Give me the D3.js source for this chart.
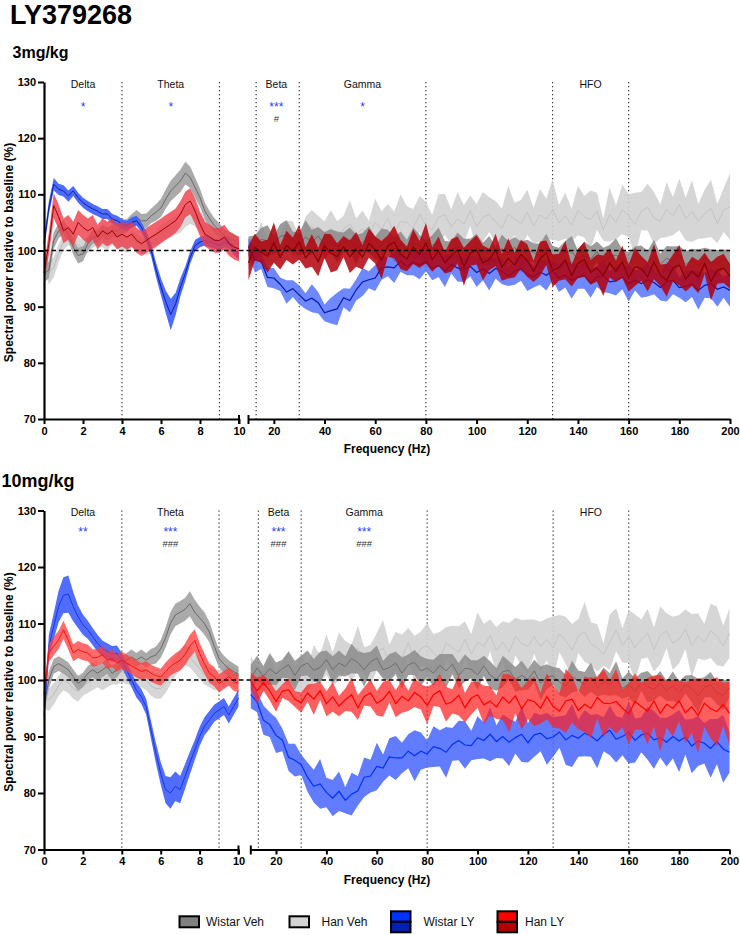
<!DOCTYPE html>
<html><head><meta charset="utf-8">
<script src="https://cdn.jsdelivr.net/npm/d3@7"></script>
<style>
html,body{margin:0;padding:0;background:#fff;}
svg{display:block;}
</style></head><body>
<svg id="chart" width="740" height="935"></svg>
<script>
// ---------------- DATA ----------------
const freqLow = [
 0,0.25,0.5,0.75,1,1.25,1.5,1.75,2,2.25,
 2.5,2.75,3,3.25,3.5,3.75,4,4.25,4.5,4.75,
 5,5.25,5.5,5.75,6,6.25,6.5,6.75,7,7.25,
 7.5,7.75,8,8.25,8.5,8.75,9,9.25,9.5,9.75,
 10];
const freqHigh = [
 10,12.5,15,17.5,20,22.5,25,27.5,30,32.5,
 35,37.5,40,42.5,45,47.5,50,52.5,55,57.5,
 60,62.5,65,67.5,70,72.5,75,77.5,80,82.5,
 85,87.5,90,92.5,95,97.5,100,102.5,105,107.5,
 110,112.5,115,117.5,120,122.5,125,127.5,130,132.5,
 135,137.5,140,142.5,145,147.5,150,152.5,155,157.5,
 160,162.5,165,167.5,170,172.5,175,177.5,180,182.5,
 185,187.5,190,192.5,195,197.5,200];

const seriesNames = ["Wistar Veh","Han Veh","Wistar LY","Han LY"];
const bandEdges = [4, 9, 13, 30, 80, 130, 160];
const bandNames = ["Delta","Theta","Beta","Gamma","HFO"];
const bandCentres = [2, 6.5, 21, 55, 145];
const starsTop = ["*","*","***","*",""];
const hashTop = ["","","#","",""];
const starsBottom = ["**","***","***","***",""];
const hashBottom = ["","###","###","###",""];
const yTicks = [70,80,90,100,110,120,130];
const xTicksLow = [0,2,4,6,8,10];
const xTicksHigh = [20,40,60,80,100,120,140,160,180,200];

// ---- 3 mg/kg : mean and SEM, 0-10 Hz ----
const t3_wv_low = [
 95.9,96.5,101.8,103.5,104.1,102.9,100.6,99.1,99.4,101.2,
 102.4,102.4,103.5,102.9,103.5,103.5,104.1,104.4,105.3,105.9,
 105.3,105.3,106.2,106.8,107.6,109.2,110.6,111.5,112.4,113.8,
 113.0,111.2,109.4,107.0,105.6,104.4,103.5,102.6,102.2,101.8,
 101.0];
const t3_wv_lowSem = [
 1.5,1.5,1.5,1.3,1.2,1.2,1.3,1.4,1.3,1.2,
 1.2,1.1,1.1,1.2,1.1,1.1,1.2,1.2,1.2,1.3,
 1.2,1.3,1.3,1.5,1.6,1.7,1.8,1.9,2.0,2.0,
 1.9,1.8,1.6,1.5,1.4,1.3,1.3,1.2,1.2,1.2,
 1.2];
const t3_hv_low = [
 99,96,97,99.5,101.5,102.5,102,101,100.5,101,
 102,102.5,102,101.5,102.5,102,101.5,101,102,101.5,
 101,100.5,101,102,103,103.5,104,104.5,105,106,
 106.5,106,105,104,103,102.5,102,101.5,101.5,101,
 100.5];
const t3_hv_lowSem = [
 2,2,1.8,1.6,1.5,1.5,1.5,1.4,1.4,1.4,
 1.5,1.5,1.4,1.4,1.5,1.5,1.4,1.4,1.5,1.5,
 1.4,1.4,1.5,1.5,1.6,1.6,1.7,1.7,1.8,1.8,
 1.8,1.7,1.7,1.6,1.5,1.5,1.4,1.4,1.4,1.4,
 1.4];
const t3_wl_low = [
 101.2,107.6,111.8,110.9,110.6,109.7,110.6,109.4,108.5,107.9,
 107.4,107,106.5,106.5,105.6,105.3,104.7,104.4,105,105.3,
 104.1,102.4,100,96.5,93.5,90.8,88.6,90.5,93.5,95.9,
 98.8,100.9,101.5,101.8,101.5,101.2,100.9,101.5,101.2,100,
 99.4];
const t3_wl_lowSem = [
 1.2,1.2,1.1,1.0,1.0,1.0,0.9,0.9,0.9,0.9,
 0.9,0.9,0.9,0.9,0.9,0.9,0.9,0.9,0.9,0.9,
 0.9,1.0,1.1,1.3,1.5,2.0,2.8,2.0,1.6,1.3,
 1.1,1.0,0.9,0.9,0.9,0.9,0.9,0.9,0.9,0.9,
 0.9];
const t3_hl_low = [
 96,101.2,108,106,103.5,104.1,102.9,105,104.1,103.5,
 104.1,102.4,103.5,102.9,103.5,102.4,102.9,102.4,102.9,101.8,
 101.2,101.8,102.4,102.9,103.5,104.1,104.7,105.3,106.5,108.2,
 108.8,107,104.7,102.9,102.4,101.8,101.8,102.4,101.2,100.6,
 100.3];
const t3_hl_lowSem = [
 1.6,2.0,2.2,2.2,2.2,2.2,2.2,2.2,2.2,2.2,
 2.2,2.2,2.2,2.2,2.2,2.2,2.2,2.2,2.2,2.2,
 2.2,2.2,2.2,2.2,2.2,2.2,2.2,2.2,2.3,2.3,
 2.3,2.3,2.2,2.2,2.2,2.2,2.2,2.2,2.2,2.2,
 2.2];

// ---- 3 mg/kg : mean and SEM, 10-200 Hz ----
const t3_wv_high = [
 100.7,100.3,102.0,101.7,101.0,102.5,102.8,101.6,101.1,102.4,
 101.5,102.6,100.9,101.8,100.6,101.4,101.9,100.2,101.5,101.9,
 100.5,100.9,101.9,100.1,101.0,100.3,101.3,100.8,99.6,100.9,
 101.5,99.7,100.0,100.8,99.1,100.3,100.8,99.4,100.0,99.1,
 100.4,99.5,100.6,98.8,99.9,99.7,98.8,100.4,99.0,98.3,
 99.7,99.8,98.4,99.2,98.5,99.8,97.9,99.0,99.2,98.4,
 97.5,99.1,98.5,97.9,99.1,97.6,98.6,98.1,99.2,97.5,
 98.3,97.2,98.7,98.0,97.7,98.6,97.5];
const t3_wv_highSem = [
 1.8,2.4,2.0,2.8,1.6,2.2,2.6,1.8,2.0,3.0,
 2.2,1.6,2.4,2.0,2.8,1.8,2.2,2.6,1.6,2.4,
 2.0,3.0,1.8,2.2,2.4,1.6,2.8,2.0,2.2,1.8,
 2.6,2.0,1.6,2.4,3.0,1.8,2.2,2.0,2.6,1.6,
 2.4,2.2,1.8,2.8,2.0,1.6,2.4,2.6,1.8,2.2,
 2.0,2.8,1.6,2.4,2.2,1.8,2.6,2.0,3.0,1.8,
 2.2,1.6,2.4,2.0,2.8,1.8,2.2,2.6,1.6,2.4,
 2.0,3.0,1.8,2.2,2.4,1.6,2.6];
const t3_hv_high = [
 99.2,100.2,102.2,99.6,101.4,100.7,102.7,102.1,100.6,103.1,
 104.3,101.8,102.6,104.0,101.7,103.9,104.8,102.8,103.9,102.7,
 105.0,103.8,105.7,103.1,105.2,105.0,103.9,106.5,104.5,103.7,
 105.9,106.4,104.2,105.6,104.7,107.1,104.2,106.0,106.4,105.1,
 103.9,106.5,105.6,104.7,106.8,104.4,106.3,105.6,107.3,104.9,
 106.2,104.5,107.1,106.0,105.5,107.0,103.7,106.4,105.0,107.3,
 106.2,104.6,107.0,107.7,105.8,105.2,107.3,106.1,108.2,105.6,
 107.0,105.2,106.5,107.5,104.8,107.2,107.8];
const t3_hv_highSem = [
 2.6,1.9,2.9,2.4,3.4,2.2,2.6,3.1,1.9,2.9,
 2.9,4.4,2.6,3.2,3.5,2.3,4.1,2.9,3.2,2.6,
 4.2,3.2,2.6,3.8,4.8,2.9,3.5,3.2,4.2,2.6,
 4.1,3.7,3.1,4.8,3.4,2.7,4.1,4.4,3.1,3.7,
 3.6,5.0,2.9,4.3,4.0,3.2,4.7,3.6,5.4,3.2,
 4.1,3.0,4.4,3.7,5.2,3.3,2.0,4.8,3.0,4.4,
 3.8,5.7,3.4,4.2,4.6,3.0,4.9,3.4,4.6,3.8,
 5.5,3.1,4.3,5.1,3.5,3.9,5.9];
const t3_wl_high = [
 100.7,98.4,98.1,95.2,95.1,94.0,92.6,93.2,92.1,91.0,
 91.5,90.7,88.9,89.3,89.6,91.6,91.1,93.0,94.4,94.8,
 95.1,96.9,97.1,96.9,98.1,97.1,97.9,97.4,98.0,96.8,
 97.3,96.3,97.5,96.9,96.6,97.2,96.1,96.7,95.9,96.8,
 96.3,95.4,96.4,96.7,95.7,95.3,96.2,95.6,96.4,95.1,
 95.6,94.7,95.2,95.6,94.2,95.3,95.5,94.4,94.6,95.3,
 94.1,94.7,94.1,94.8,94.3,93.4,94.4,94.7,93.4,93.6,
 94.1,92.9,93.8,94.1,93.1,93.5,92.9];
const t3_wl_highSem = [
 1.5,2.3,1.4,1.7,1.8,1.2,2.1,1.5,1.7,1.4,
 2.5,1.9,1.5,2.3,2.9,1.7,2.1,1.9,2.5,1.5,
 2.3,2.1,1.7,2.7,1.9,1.5,2.3,2.5,1.7,2.1,
 2.0,2.8,1.6,2.4,2.2,1.8,2.6,2.0,3.0,1.8,
 2.3,1.7,2.5,2.1,2.9,1.9,2.3,2.7,1.7,2.5,
 2.2,3.3,2.0,2.4,2.6,1.8,2.9,2.0,2.6,2.2,
 3.2,1.8,2.5,3.0,2.1,2.3,3.5,2.5,1.8,2.8,
 2.4,3.4,2.2,2.6,3.1,1.9,2.9];
const t3_hl_high = [
 97.8,100.6,99.7,99.0,101.4,98.8,100.9,99.9,101.5,98.7,
 100.0,98.0,100.8,99.5,98.9,100.7,98.9,100.2,98.8,101.3,
 100.1,98.3,100.8,101.5,99.3,98.5,100.7,99.3,101.3,98.4,
 99.9,97.8,99.1,100.1,97.1,99.5,100.1,97.8,98.4,100.1,
 97.0,98.6,97.4,99.3,98.2,96.3,98.5,99.6,96.4,97.0,
 98.3,95.5,97.7,98.4,96.1,96.9,95.5,97.8,96.3,98.0,
 95.1,97.1,96.8,95.3,98.0,95.6,94.7,96.9,97.4,94.9,
 96.3,95.3,97.7,94.5,96.5,96.8,95.4];
const t3_hl_highSem = [
 3.1,2.4,1.9,2.9,3.6,2.2,2.6,2.4,3.1,1.9,
 2.9,2.6,2.2,3.4,2.4,1.9,2.9,3.1,2.2,2.6,
 2.4,3.4,1.9,2.9,2.6,2.2,3.1,2.4,3.6,2.2,
 2.6,1.9,2.9,2.4,3.4,2.2,2.6,3.1,1.9,2.9,
 2.4,3.6,2.2,2.6,2.9,1.9,3.1,2.2,2.9,2.4,
 3.4,1.9,2.6,3.1,2.2,2.4,3.6,2.6,1.9,2.9,
 2.4,3.4,2.2,2.6,3.1,1.9,2.9,2.4,3.6,2.2,
 2.6,2.9,1.9,3.4,2.4,2.6,2.2];

// ---- 10 mg/kg : mean and SEM, 0-10 Hz ----
const t10_wv_low = [
 95.5,100,102.4,102.9,102.4,101.8,100.6,99.4,100,101.2,
 101.8,101.2,101.8,102.4,101.2,101.8,102.9,103.5,104.1,103.5,
 104.1,103.5,104.1,104.4,105.5,107.5,110,111.5,112,112.5,
 113.5,112,111,110,108.5,106,103.8,102.8,102,101.5,
 101];
const t10_wv_lowSem = [
 1.5,1.5,1.3,1.3,1.3,1.3,1.3,1.3,1.3,1.3,
 1.3,1.3,1.3,1.3,1.3,1.3,1.3,1.3,1.3,1.3,
 1.3,1.3,1.4,1.5,1.6,1.8,2,2,2,2,
 2.2,2.2,2,2,1.8,1.7,1.6,1.5,1.5,1.4,
 1.4];
const t10_hv_low = [
 97,96.5,97.5,99,100,99.5,98.5,98,99,99.5,
 100,100.5,100,100.5,101,101,101.5,101,101,100.5,
 100.5,100,99,98.5,98.5,99.5,101,102.5,103.5,104.5,
 104,103,102,101,100.5,100,100,100.5,101,100.5,
 100];
const t10_hv_lowSem = [
 2,2,1.9,1.8,1.8,1.8,1.8,1.8,1.8,1.8,
 1.8,1.8,1.8,1.8,1.8,1.8,1.8,1.8,1.8,1.8,
 1.8,1.8,1.8,1.8,1.8,1.8,1.8,1.8,1.8,1.8,
 1.8,1.8,1.8,1.8,1.8,1.8,1.8,1.8,1.8,1.8,
 1.8];
const t10_wl_low = [
 93.5,106,109.5,113,115,115.2,113,111.2,109.8,108.9,
 107.7,106.5,105.6,105.1,104.6,104.7,103.5,101.8,100,98.2,
 97.1,95.3,91.2,87.1,83.5,80.6,80,81.2,80.6,82.9,
 85.3,87.6,90,91.8,92.9,94.1,94.7,95.3,93.8,95.3,
 96.8];
const t10_wl_lowSem = [
 1.5,2,2.3,2.8,3.2,3.3,2.6,2,1.8,1.6,
 1.5,1.5,1.4,1.4,1.4,1.4,1.3,1.3,1.3,1.3,
 1.3,1.4,1.6,1.8,2,2.4,2.8,2.6,2.4,2.2,
 2,1.8,1.7,1.6,1.6,1.5,1.5,1.5,1.5,1.5,
 1.5];
const t10_hl_low = [
 97.5,104.8,106,107.1,108.9,107,104.8,105.4,105,104.8,
 103.9,104,104.5,103.5,103.8,103,103.5,103,102.5,102,
 101.5,101.8,101.2,100.8,100.5,101.5,102.4,103,103.5,104.5,
 106,107,104.7,102.9,101.2,100.6,99.4,100,100.6,99.7,
 99.4];
const t10_hl_lowSem = [
 1.5,1.6,1.6,1.6,1.6,1.6,1.5,1.5,1.5,1.5,
 1.5,1.5,1.5,1.5,1.5,1.5,1.5,1.5,1.5,1.5,
 1.5,1.5,1.5,1.5,1.5,1.6,1.6,1.7,1.8,1.9,
 2,2,1.9,1.8,1.7,1.7,1.6,1.6,1.6,1.6,
 1.6];

// ---- 10 mg/kg : mean and SEM, 10-200 Hz ----
const t10_wv_high = [
 100.3,102.1,100.7,102.0,101.1,102.0,102.7,100.8,102.5,103.0,
 101.7,102.2,103.6,101.8,103.0,102.4,103.8,103.1,101.8,103.2,
 103.9,101.8,102.2,103.0,101.2,102.7,103.1,101.6,102.1,101.2,
 102.6,101.6,102.8,100.8,102.1,101.9,100.9,102.5,100.9,100.1,
 101.5,101.7,100.1,100.8,100.1,101.6,99.4,100.6,100.7,99.7,
 98.9,100.6,99.9,99.2,100.5,98.7,99.8,99.2,100.3,98.5,
 99.3,97.9,99.7,98.8,98.4,99.4,98.1,98.9,97.8,99.2,
 98.5,97.2,98.7,99.2,97.7,97.3,98.6];
const t10_wv_highSem = [
 2.4,2.2,1.8,2.8,2.0,1.6,2.4,2.6,1.8,2.2,
 2.0,2.8,1.6,2.4,2.2,1.8,2.6,2.0,3.0,1.8,
 2.2,1.6,2.4,2.0,2.8,1.8,2.2,2.6,1.6,2.4,
 2.0,3.0,1.8,2.2,2.4,1.6,2.6,1.8,2.4,2.0,
 2.8,1.6,2.2,2.6,1.8,2.0,3.0,2.2,1.6,2.4,
 2.0,2.8,1.8,2.2,2.6,1.6,2.4,2.0,3.0,1.8,
 2.2,2.4,1.6,2.8,2.0,2.2,1.8,2.6,2.0,1.6,
 2.4,3.0,1.8,2.2,2.0,2.6,1.6];
const t10_hv_high = [
 102.0,99.0,99.8,101.4,98.8,101.2,102.1,100.0,101.1,100.1,
 102.9,102.1,104.5,101.9,104.2,104.2,103.0,105.7,103.4,102.6,
 105.0,105.6,103.3,104.9,104.0,106.6,103.5,105.6,106.1,104.8,
 103.6,106.6,105.7,104.9,107.2,104.6,106.7,106.0,107.9,105.2,
 106.7,104.9,107.7,106.5,105.9,107.7,105.9,107.2,105.7,108.2,
 107.0,105.3,107.8,108.5,106.4,105.7,104.5,106.7,108.9,106.1,
 107.7,105.7,107.2,108.3,105.4,107.9,108.7,106.5,107.2,109.0,
 106.1,107.8,106.7,108.7,107.8,106.0,108.3];
const t10_hv_highSem = [
 2.3,3.2,1.8,2.8,2.5,2.1,3.0,2.3,3.5,2.1,
 3.3,2.4,3.6,3.0,4.2,2.7,3.3,3.9,2.4,3.6,
 3.3,5.0,3.0,3.6,4.0,2.6,4.3,3.0,4.0,3.3,
 4.9,2.8,3.9,4.6,3.2,3.5,5.3,3.9,2.8,4.2,
 3.7,5.2,3.3,4.1,4.8,3.0,4.4,3.7,5.6,3.3,
 4.2,4.6,3.0,5.3,3.8,4.2,2.0,4.9,3.8,3.0,
 4.7,5.9,3.5,4.3,3.9,5.1,3.1,4.7,4.3,3.5,
 5.6,4.0,3.2,4.8,5.2,3.6,4.4];
const t10_wl_high = [
 97.4,96.1,92.9,92.1,90.2,89.4,86.3,85.8,85.0,82.8,
 81.2,81.6,80.1,79.1,80.3,78.7,79.8,80.4,82.8,83.0,
 84.7,84.4,86.4,86.2,86.2,87.4,86.6,87.4,86.9,88.2,
 87.9,87.2,88.6,89.3,88.5,88.4,89.8,89.3,90.4,89.1,
 90.0,89.0,89.8,90.4,88.9,90.3,90.6,89.6,89.9,90.8,
 89.4,90.2,89.7,90.6,90.1,89.2,90.4,91.1,89.5,90.0,
 90.7,89.3,90.3,90.6,89.4,89.8,89.0,90.0,89.2,89.9,
 88.3,89.2,88.8,87.9,89.1,87.8,87.2];
const t10_wl_highSem = [
 2.4,1.8,2.6,2.2,3.1,2.0,2.4,2.9,1.8,2.6,
 2.9,4.4,2.6,3.2,3.5,2.3,3.8,2.6,3.5,2.9,
 4.2,2.4,3.3,3.9,2.7,3.0,4.5,3.3,2.4,3.6,
 3.2,4.5,2.9,3.5,4.2,2.6,3.8,3.2,4.8,2.9,
 3.9,4.2,2.8,4.9,3.5,3.9,3.2,4.6,3.5,2.8,
 4.4,5.6,3.3,4.1,3.7,4.8,3.0,4.4,4.1,3.3,
 5.5,3.9,3.1,4.7,5.1,3.5,4.3,3.9,5.5,3.1,
 4.8,4.4,3.6,5.2,4.0,6.0,3.6];
const t10_hl_high = [
 99.8,98.1,99.5,98.1,96.2,98.0,98.3,96.6,96.0,97.7,
 96.6,98.1,95.8,97.0,95.4,96.5,97.4,95.1,97.1,97.7,
 95.9,96.6,98.0,95.8,97.1,96.3,97.8,97.0,95.5,97.4,
 98.1,95.7,96.2,97.3,95.1,96.8,97.4,95.6,96.3,95.2,
 97.0,95.9,97.2,94.9,96.5,96.2,95.0,97.1,95.3,94.5,
 96.3,96.6,94.6,95.7,95.0,96.9,95.9,95.8,96.2,95.0,
 94.0,96.2,95.3,94.5,96.3,94.1,95.7,95.0,96.3,94.2,
 95.3,93.7,95.9,94.9,94.4,95.7,94.1];
const t10_hl_highSem = [
 1.5,2.3,1.4,1.7,1.8,1.2,2.0,1.4,1.8,1.5,
 2.8,1.6,2.2,2.6,1.8,2.0,3.0,2.2,1.6,2.4,
 2.2,3.1,2.0,2.4,2.9,1.8,2.6,2.2,3.3,2.0,
 2.9,3.1,2.1,3.6,2.6,2.9,2.3,3.4,2.6,2.1,
 4.1,5.1,3.1,3.7,3.4,4.4,2.7,4.1,3.7,3.1,
 5.7,4.1,3.3,4.9,5.3,3.7,6.0,4.1,5.7,3.3,
 5.4,5.0,4.1,5.9,4.5,6.8,4.1,5.0,3.6,5.4,
 4.7,6.6,4.2,5.2,6.1,3.8,5.6];

// ---------------- DRAWING ----------------
const FONT = '"Liberation Sans", Arial, Helvetica, sans-serif';
const svg = d3.select("#chart").style("font-family", FONT);

const styles = {
  top: {
    hv: {L:{fill:"#d2d2d2",op:0.9,line:"#bdbdbd",w:1}, R:{fill:"#d2d2d2",op:0.9,line:"#c4c4c4",w:1}},
    wv: {L:{fill:"#9b9b9b",op:0.85,line:"#686868",w:1}, R:{fill:"#8a8a8a",op:0.85,line:"#6a6a6a",w:1}},
    wl: {L:{fill:"#3b5bff",op:0.9,line:"#0d1f9e",w:1}, R:{fill:"#4a6aff",op:0.8,line:"#0a18a8",w:1.2}},
    hl: {L:{fill:"#ef3b47",op:0.8,line:"#a30000",w:1}, R:{fill:"#b3000c",op:0.85,line:"#860000",w:1.2}}
  },
  bottom: {
    hv: {L:{fill:"#d2d2d2",op:0.9,line:"#bdbdbd",w:1}, R:{fill:"#d2d2d2",op:0.9,line:"#c4c4c4",w:1}},
    wv: {L:{fill:"#9b9b9b",op:0.85,line:"#686868",w:1}, R:{fill:"#8c8c8c",op:0.85,line:"#6e6e6e",w:1}},
    wl: {L:{fill:"#3d5dff",op:0.9,line:"#1a36e0",w:1}, R:{fill:"#4565ff",op:0.85,line:"#0030ff",w:1.2}},
    hl: {L:{fill:"#ff3a3a",op:0.75,line:"#ff1010",w:1}, R:{fill:"#ff2020",op:0.72,line:"#ff0000",w:1.2}}
  }
};

const panels = [
  { key:"top", label:"3mg/kg", lx:12.5, ly:58, lsize:16,
    y0:419, y1:82, xl:[44,239], xr:[248.5,730],
    nameDy:6, starY:111, hashY:121.5, stars:starsTop, hashes:hashTop,
    series:[
      {id:"hv", low:t3_hv_low, lowSem:t3_hv_lowSem, high:t3_hv_high, highSem:t3_hv_highSem},
      {id:"wv", low:t3_wv_low, lowSem:t3_wv_lowSem, high:t3_wv_high, highSem:t3_wv_highSem},
      {id:"wl", low:t3_wl_low, lowSem:t3_wl_lowSem, high:t3_wl_high, highSem:t3_wl_highSem},
      {id:"hl", low:t3_hl_low, lowSem:t3_hl_lowSem, high:t3_hl_high, highSem:t3_hl_highSem}
    ]},
  { key:"bottom", label:"10mg/kg", lx:1.5, ly:486.5, lsize:18,
    y0:849.5, y1:510.5, xl:[44,238.5], xr:[250.8,729.5],
    nameDy:5.5, starY:535.5, hashY:546.5, stars:starsBottom, hashes:hashBottom,
    series:[
      {id:"hv", low:t10_hv_low, lowSem:t10_hv_lowSem, high:t10_hv_high, highSem:t10_hv_highSem},
      {id:"wv", low:t10_wv_low, lowSem:t10_wv_lowSem, high:t10_wv_high, highSem:t10_wv_highSem},
      {id:"wl", low:t10_wl_low, lowSem:t10_wl_lowSem, high:t10_wl_high, highSem:t10_wl_highSem},
      {id:"hl", low:t10_hl_low, lowSem:t10_hl_lowSem, high:t10_hl_high, highSem:t10_hl_highSem}
    ]}
];

// title
svg.append("text").attr("x", 10).attr("y", 23.5)
  .attr("font-size", 27).attr("font-weight", "bold").attr("fill", "#000").text("LY379268");

panels.forEach(p => {
  const y = d3.scaleLinear().domain([70,130]).range([p.y0, p.y1]);
  const xL = d3.scaleLinear().domain([0,10]).range(p.xl);
  const xR = d3.scaleLinear().domain([10,200]).range(p.xr);
  const xf = f => f <= 10 ? xL(f) : xR(f);
  const g = svg.append("g");

  svg.append("text").attr("x", p.lx).attr("y", p.ly)
    .attr("font-size", p.lsize).attr("font-weight", "bold").text(p.label);

  g.selectAll("line.band").data(bandEdges).join("line")
    .attr("x1", d => xf(d)).attr("x2", d => xf(d))
    .attr("y1", y(130)).attr("y2", y(70))
    .attr("stroke", "#222").attr("stroke-width", 1.1).attr("stroke-dasharray", "1.2,2.8");

  p.series.forEach(s => {
    const st = styles[p.key][s.id];
    [[xL, freqLow, s.low, s.lowSem, st.L], [xR, freqHigh, s.high, s.highSem, st.R]].forEach(([x, fr, m, se, sty]) => {
      const data = fr.map((f, i) => ({f: f, m: m[i], s: se[i]}));
      g.append("path").datum(data)
        .attr("d", d3.area().x(d => x(d.f)).y0(d => y(d.m - d.s)).y1(d => y(d.m + d.s)))
        .attr("fill", sty.fill).attr("fill-opacity", sty.op).attr("stroke", "none");
      g.append("path").datum(data)
        .attr("d", d3.line().x(d => x(d.f)).y(d => y(d.m)))
        .attr("fill", "none").attr("stroke", sty.line).attr("stroke-width", sty.w);
    });
  });

  g.append("line").attr("x1", xL(0)).attr("x2", xR(200))
    .attr("y1", y(100)).attr("y2", y(100))
    .attr("stroke", "#000").attr("stroke-width", 1.6).attr("stroke-dasharray", "4.5,3");

  bandNames.forEach((n, i) => {
    const cx = xf(bandCentres[i]);
    g.append("text").attr("x", cx).attr("y", y(130) + p.nameDy)
      .attr("text-anchor", "middle").attr("font-size", 10.5).attr("fill", "#111").text(n);
    if (p.stars[i]) g.append("text").attr("x", cx).attr("y", p.starY)
      .attr("text-anchor", "middle").attr("font-size", 12).attr("fill", "#2b3cff").text(p.stars[i]);
    if (p.hashes[i]) g.append("text").attr("x", cx).attr("y", p.hashY)
      .attr("text-anchor", "middle").attr("font-size", 9.5).attr("fill", "#333").text(p.hashes[i]);
  });

  const styleAxis = sel => {
    sel.select(".domain").attr("stroke", "#000").attr("stroke-width", 2.2);
    sel.selectAll(".tick line").attr("stroke", "#000").attr("stroke-width", 2);
    sel.selectAll(".tick text").attr("font-size", 11).attr("font-weight", "bold")
      .attr("fill", "#000").attr("font-family", FONT);
  };
  svg.append("g").attr("transform", `translate(${p.xl[0]},0)`)
    .call(d3.axisLeft(y).tickValues(yTicks).tickSize(6).tickSizeOuter(0).tickPadding(2))
    .call(styleAxis);
  svg.append("g").attr("transform", `translate(0,${p.y0})`)
    .call(d3.axisBottom(xL).tickValues(xTicksLow).tickSize(5).tickSizeOuter(0).tickPadding(3))
    .call(styleAxis);
  svg.append("g").attr("transform", `translate(0,${p.y0})`)
    .call(d3.axisBottom(xR).tickValues(xTicksHigh).tickSize(5).tickSizeOuter(0).tickPadding(3))
    .call(styleAxis);
  [xL(10), xR(10)].forEach(bx => {
    svg.append("line").attr("x1", bx).attr("x2", bx).attr("y1", p.y0 - 4).attr("y2", p.y0 + 5)
      .attr("stroke", "#000").attr("stroke-width", 2);
  });

  svg.append("text").attr("x", 387).attr("y", p.y0 + 34).attr("text-anchor", "middle")
    .attr("font-size", 12).attr("font-weight", "bold").text("Frequency (Hz)");
  svg.append("text").attr("transform", `translate(13,${(p.y0 + p.y1) / 2 + 2}) rotate(-90)`)
    .attr("text-anchor", "middle").attr("font-size", 12).attr("font-weight", "bold")
    .text("Spectral power relative to baseline (%)");
});

// legend
const legendItems = [
  {name: seriesNames[0], x: 179.5, colors: ["#808080"], tx: 206},
  {name: seriesNames[1], x: 289.5, colors: ["#d3d3d3"], tx: 321.5},
  {name: seriesNames[2], x: 391, colors: ["#0033ff", "#0020b0"], tx: 423.5},
  {name: seriesNames[3], x: 497.5, colors: ["#ff0000", "#b00000"], tx: 525}
];
const lg = svg.append("g");
legendItems.forEach(it => {
  const w = 19.5, cy = 921.8;
  if (it.colors.length === 1) {
    lg.append("rect").attr("x", it.x).attr("y", cy - 5.5).attr("width", w).attr("height", 11)
      .attr("fill", it.colors[0]).attr("stroke", "#000").attr("stroke-width", 2);
  } else {
    lg.append("rect").attr("x", it.x).attr("y", cy - 10.5).attr("width", w).attr("height", 10.5)
      .attr("fill", it.colors[0]).attr("stroke", "#000").attr("stroke-width", 2);
    lg.append("rect").attr("x", it.x).attr("y", cy).attr("width", w).attr("height", 10.5)
      .attr("fill", it.colors[1]).attr("stroke", "#000").attr("stroke-width", 2);
  }
  lg.append("text").attr("x", it.tx).attr("y", cy + 4.3).attr("font-size", 12).attr("fill", "#111").text(it.name);
});
</script>
</body></html>
